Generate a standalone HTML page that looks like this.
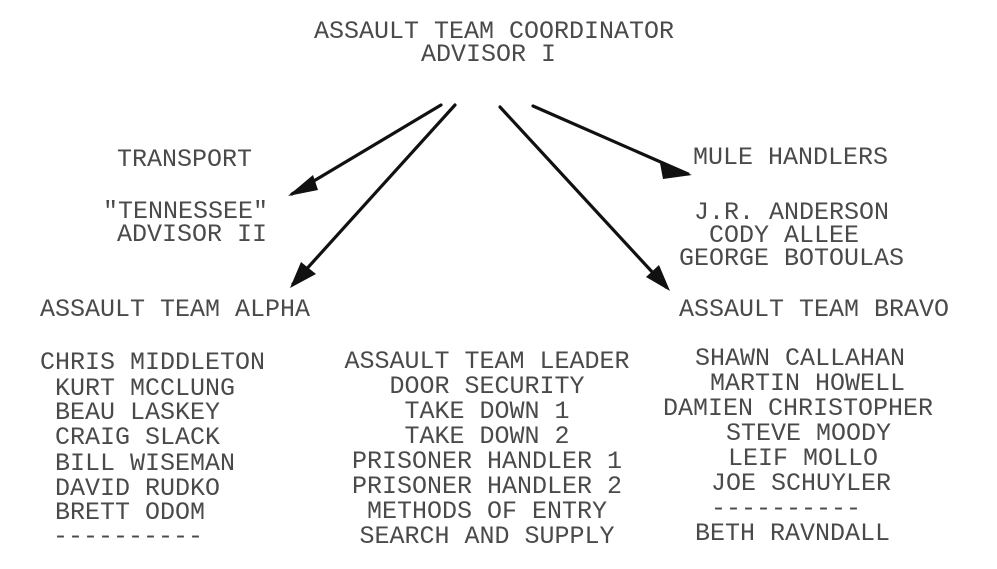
<!DOCTYPE html>
<html><head><meta charset="utf-8"><style>
html,body{margin:0;padding:0;background:#fff;}
svg{display:block}
text{font-family:"Liberation Mono","DejaVu Sans Mono",monospace;font-size:25px;fill:#4a4a4a;}
</style></head><body>
<svg width="997" height="569" viewBox="0 0 997 569" xmlns="http://www.w3.org/2000/svg">
<g stroke="#111" stroke-width="3.2" stroke-linecap="round">
<line x1="441" y1="105" x2="292" y2="194"/>
<line x1="455" y1="105" x2="293" y2="284"/>
<line x1="500" y1="107" x2="666" y2="287"/>
<line x1="533" y1="106" x2="688" y2="174"/>
</g>
<g fill="#111">
<polygon points="288,196 313,175 318,190"/>
<polygon points="290,288 301,262 316,274"/>
<polygon points="670,291 646,277 659,265"/>
<polygon points="692,175 660,163 663,179"/>
</g>
<text x="314" y="38">ASSAULT TEAM COORDINATOR</text>
<text x="421" y="61">ADVISOR I</text>
<text x="117" y="166">TRANSPORT</text>
<text x="103" y="218">"TENNESSEE"</text>
<text x="117" y="241">ADVISOR II</text>
<text x="40" y="316">ASSAULT TEAM ALPHA</text>
<text x="693" y="164">MULE HANDLERS</text>
<text x="694" y="219">J.R. ANDERSON</text>
<text x="709" y="242">CODY ALLEE</text>
<text x="679" y="265">GEORGE BOTOULAS</text>
<text x="679" y="316">ASSAULT TEAM BRAVO</text>
<g>
<text x="40" y="369">CHRIS MIDDLETON</text>
<text x="55" y="395">KURT MCCLUNG</text>
<text x="55" y="419">BEAU LASKEY</text>
<text x="55" y="444">CRAIG SLACK</text>
<text x="55" y="470">BILL WISEMAN</text>
<text x="55" y="495">DAVID RUDKO</text>
<text x="55" y="519">BRETT ODOM</text>
<text x="53" y="543">----------</text>
</g>
<g text-anchor="middle">
<text x="487" y="368">ASSAULT TEAM LEADER</text>
<text x="487" y="393">DOOR SECURITY</text>
<text x="487" y="418">TAKE DOWN 1</text>
<text x="487" y="443">TAKE DOWN 2</text>
<text x="487" y="468">PRISONER HANDLER 1</text>
<text x="487" y="493">PRISONER HANDLER 2</text>
<text x="487" y="518">METHODS OF ENTRY</text>
<text x="487" y="543">SEARCH AND SUPPLY</text>
</g>
<g>
<text x="695" y="365">SHAWN CALLAHAN</text>
<text x="710" y="390">MARTIN HOWELL</text>
<text x="663" y="415">DAMIEN CHRISTOPHER</text>
<text x="726" y="440">STEVE MOODY</text>
<text x="728" y="465">LEIF MOLLO</text>
<text x="711" y="490">JOE SCHUYLER</text>
<text x="711" y="515">----------</text>
<text x="695" y="540">BETH RAVNDALL</text>
</g>
</svg>
</body></html>
